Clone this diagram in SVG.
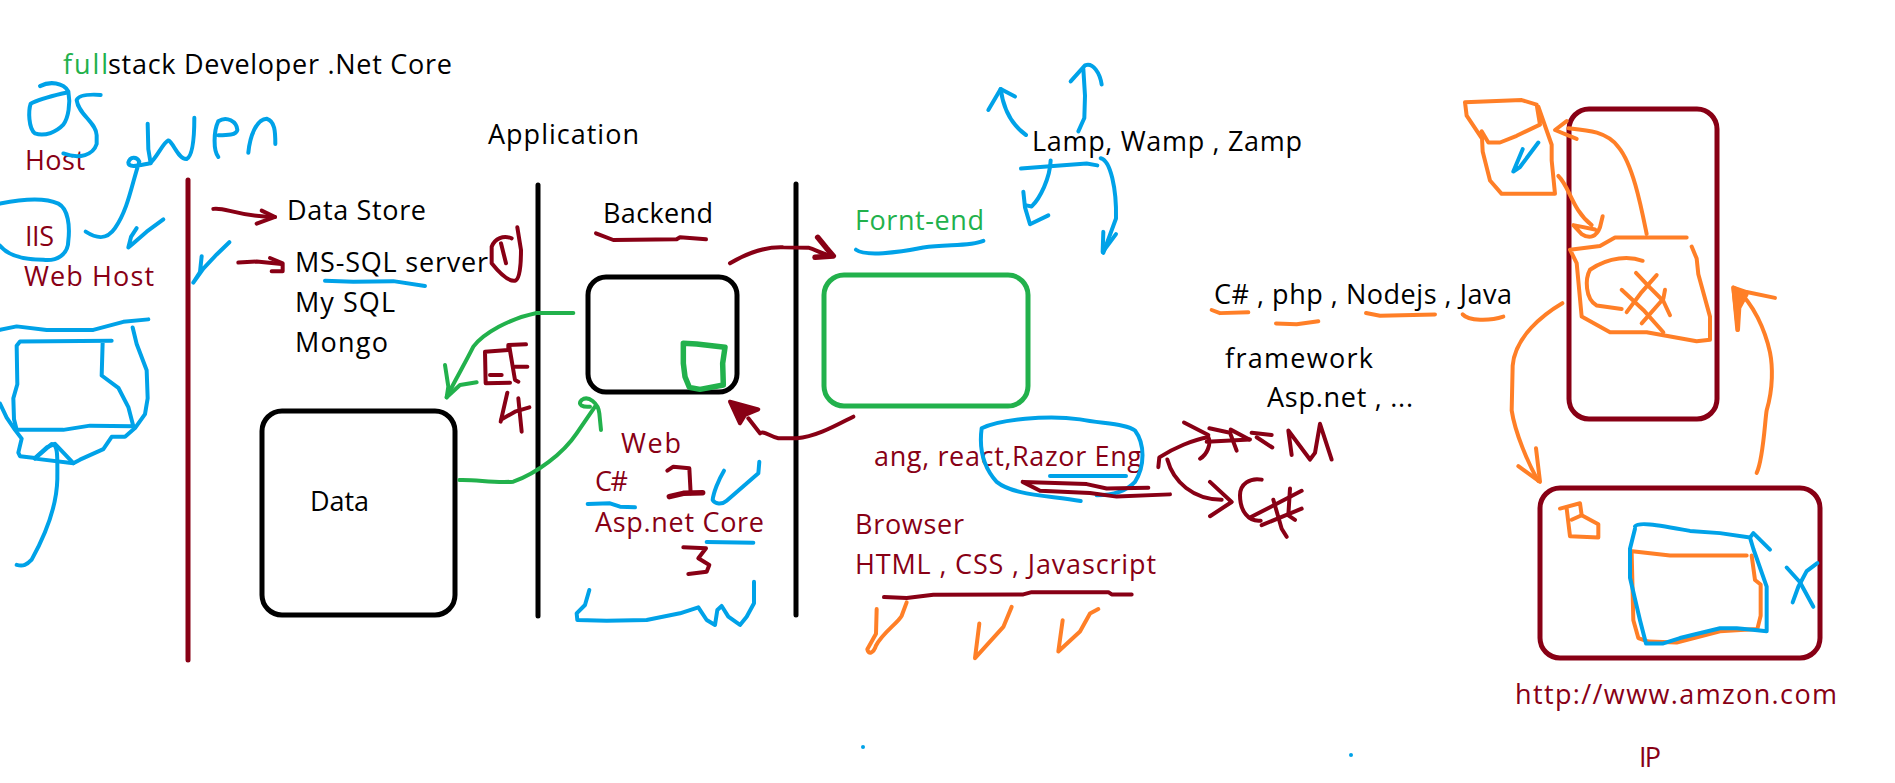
<svg xmlns="http://www.w3.org/2000/svg" width="1895" height="783" viewBox="0 0 1895 783">
<style>
text{font-family:"Open Sans","Noto Sans","Liberation Sans",sans-serif;font-size:27px;fill:#000}
text.m{fill:#880015}
text.g{fill:#22B14C}
rect,polyline,polygon,line,path{fill:none;stroke-linecap:round;stroke-linejoin:round;vector-effect:non-scaling-stroke}
.box{stroke-width:5}
.bk{stroke:#000}
.mr{stroke:#880015}
.gr{stroke:#22B14C}
.bl{stroke:#00A2E8;stroke-width:4}
.or{stroke:#FF7F27;stroke-width:4}
.mrs{stroke:#880015;stroke-width:4}
.grs{stroke:#22B14C;stroke-width:4}
.thick{stroke-width:5.5}
.z1{transform:translate(0px,30px) scale(.33333,.35075)}
.z2{transform:translate(420px,150px) scale(.33333,.33333)}
.z3{transform:translate(840px,60px) scale(.33333,.44643)}
.z4{transform:translate(1400px,80px) scale(.33333,.44643)}
</style>
<rect width="1895" height="783" fill="#fff" style="stroke:none"/>

<g id="dividers">
<line class="box mr" x1="188" y1="180" x2="188" y2="660"/>
<line class="box bk" x1="538" y1="185" x2="538" y2="616"/>
<line class="box bk" x1="796" y1="184" x2="796" y2="615"/>
</g>

<g id="node-data"><rect class="box bk" x="262" y="411" width="193" height="204" rx="20"/><text x="310" y="511" textLength="59">Data</text></g>
<g id="node-backend"><rect class="box bk" x="588" y="277" width="149" height="115" rx="18"/>
<g class="z2"><polygon class="grs thick" points="790,580 830,582 915,592 908,640 910,705 840,718 808,712 795,680 790,640"/></g></g>
<g id="node-frontend"><rect class="box gr" x="824" y="275" width="204" height="131" rx="20"/></g>
<g id="node-server"><rect class="box mr" x="1569" y="109" width="148" height="310" rx="20"/></g>
<g id="node-browser"><rect class="box mr" x="1540" y="488" width="280" height="170" rx="20"/></g>

<g id="labels">
<text class="g" x="63" y="74" textLength="45">full</text>
<text x="108" y="74" textLength="344">stack Developer .Net Core</text>
<text class="m" x="25" y="170" textLength="60">Host</text>
<text class="m" x="25" y="246" textLength="29">IIS</text>
<text class="m" x="24" y="286" textLength="130">Web Host</text>
<text x="488" y="144" textLength="151">Application</text>
<text x="287" y="220" textLength="139">Data Store</text>
<text x="295" y="272" textLength="193">MS-SQL server</text>
<text x="295" y="312" textLength="100">My SQL</text>
<text x="295" y="352" textLength="93">Mongo</text>
<text x="603" y="223" textLength="110">Backend</text>
<text class="g" x="855" y="230" textLength="129">Fornt-end</text>
<text class="m" x="621" y="453" textLength="60">Web</text>
<text class="m" x="595" y="491" textLength="33">C#</text>
<text class="m" x="595" y="532" textLength="169">Asp.net Core</text>
<text class="m" x="874" y="466" textLength="268">ang, react,Razor Eng</text>
<text class="m" x="855" y="534" textLength="109">Browser</text>
<text class="m" x="855" y="574" textLength="301">HTML , CSS , Javascript</text>
<text x="1032" y="151" textLength="270">Lamp, Wamp , Zamp</text>
<text x="1214" y="304" textLength="298">C# , php , Nodejs , Java</text>
<text x="1225" y="368" textLength="148">framework</text>
<text x="1267" y="407" textLength="146">Asp.net , ...</text>
<text class="m" x="1515" y="704" textLength="322">http://www.amzon.com</text>
<text class="m" x="1639" y="767" textLength="22">IP</text>
</g>

<g id="connectors">
<g class="z1">
<path class="bl" d="M120,160 C150,145 190,150 205,175 C212,210 205,250 190,270 C170,290 135,305 105,295 C85,280 85,230 92,210 C120,195 170,185 200,178"/>
<path class="bl" d="M302,185 C270,183 235,185 230,200 C235,240 290,265 290,300 L290,325 C280,355 240,370 190,352"/>
<path class="bl" d="M257,575 C290,595 320,600 345,565 C385,510 395,440 418,375 C410,360 390,360 385,378 C385,395 420,385 450,380 C470,365 490,320 505,315 C520,320 535,370 560,368 C575,360 583,320 583,250"/>
<polyline class="bl" points="443,267 445,340 452,380"/>
<path class="bl" d="M655,300 C680,300 710,300 712,285 C710,260 680,245 655,260 C640,290 640,345 655,362"/>
<path class="bl" d="M745,350 C750,300 770,255 800,253 C825,260 826,290 826,325"/>
<path class="bl" d="M0,495 C50,485 130,475 175,495 C205,510 210,560 205,600 C205,640 170,660 130,655 C90,655 30,650 0,615"/>
<polyline class="bl" points="490,540 440,575 395,612 385,620 393,590 410,565"/>
<polyline class="bl" points="688,605 650,640 610,680 580,720 600,690 605,645"/>
<polyline class="bl" points="975,715 1060,718 1180,716 1275,730"/>
<polyline class="bl" points="0,855 50,845 140,855 280,855 370,832 445,825"/>
<polyline class="bl" points="335,886 60,888 50,900 52,1010 40,1050 42,1110 50,1140 190,1140 270,1128 400,1130 385,1075 355,1020 305,985 308,890"/>
<polyline class="bl" points="398,848 410,895 440,970 443,1050 435,1095 405,1135 375,1160 335,1160 310,1195 240,1225 220,1235 190,1205 165,1180 140,1190 105,1220 60,1215 55,1205 65,1165 45,1140 20,1105 0,1065"/>
<path class="bl" d="M105,1222 L155,1180 C175,1180 172,1220 172,1280 C170,1370 130,1450 95,1510 C80,1525 70,1530 50,1525"/>
<polyline class="bl" points="105,1222 220,1235"/>
<path class="mrs" d="M640,510 C680,505 700,530 825,533"/>
<polyline class="mrs" points="785,515 825,533 770,552"/>
<polyline class="mrs" points="715,663 770,660 845,667"/>
<polyline class="mrs" points="810,650 848,665 848,688 815,688"/>
</g>
<g class="z2">
<polyline class="mrs" points="528,250 580,270 770,268 780,262 858,268"/>
<path class="mrs" d="M275,265 C250,255 225,265 215,290 L215,340 C235,365 265,395 285,392 C300,390 303,340 303,300 L292,232"/>
<polyline class="mrs" points="243,280 258,340"/>
<polyline class="mrs" points="318,583 265,585 265,600 195,605 197,700 270,698"/>
<polyline class="mrs" points="210,675 245,675"/>
<polyline class="mrs" points="268,590 285,690 295,695"/>
<polyline class="mrs" points="285,650 322,650"/>
<polyline class="mrs" points="262,728 242,815"/>
<polyline class="mrs" points="245,808 285,785 328,772"/>
<polyline class="mrs" points="295,745 305,845"/>
<polyline class="mrs" points="742,962 760,950 808,955 812,1030"/>
<polyline class="mrs thick" points="748,1040 790,1030 848,1028"/>
<polyline class="mrs" points="790,1192 858,1195 835,1225 868,1245 860,1265 805,1272"/>
<path class="mrs" d="M930,340 C980,310 1040,290 1090,292 L1165,293 C1190,300 1210,315 1240,318"/>
<polyline class="mrs thick" points="1193,262 1220,295 1240,318 1185,322"/>
<path class="mrs" d="M1300,800 C1250,825 1190,860 1130,865 L1075,865 C1050,860 1030,840 1020,850 L985,805"/>
<polygon class="mrs" style="fill:#880015" points="930,755 1015,778 975,795 960,820"/>
<path class="grs" d="M460,489 L350,489 C270,505 190,550 160,590 C135,640 100,700 80,742"/>
<polyline class="grs" points="75,645 85,710 80,742 120,705 170,697"/>
<path class="grs" d="M118,990 C170,988 220,1000 280,995 C350,970 430,910 470,850 L525,770"/>
<path class="grs" d="M543,840 L538,790 C535,760 505,735 485,750 C470,765 490,772 510,770"/>
<path class="bl" d="M912,962 C895,990 880,1030 878,1050 C885,1062 905,1065 920,1052 L1015,970 L1018,935"/>
<polyline class="bl" points="503,1062 570,1060 600,1070 645,1072"/>
<polyline class="bl" points="860,1176 1000,1178"/>
<polyline class="bl" points="508,1320 495,1365 470,1390 472,1410 560,1412 680,1410 780,1390 835,1372 860,1410 885,1425 892,1380 905,1368 925,1400 960,1425 980,1400 1002,1360 1002,1295"/>
</g>
<g class="z3">
<path class="bl" d="M558,168 C515,145 490,110 482,65"/>
<polyline class="bl" points="445,112 482,65 525,82"/>
<polyline class="bl" points="715,160 733,130 735,80 730,20"/>
<path class="bl" d="M692,48 L735,12 C760,5 780,30 785,55"/>
<polyline class="bl" points="543,243 630,238 740,232 772,236"/>
<path class="bl" d="M632,225 C630,265 600,310 575,328 L555,325"/>
<polyline class="bl" points="550,295 555,330 570,368 625,348"/>
<path class="bl" d="M782,220 C812,225 830,290 828,355 L790,432"/>
<polyline class="bl" points="790,385 788,430 828,390"/>
<path class="bl" d="M48,425 C75,440 170,432 250,420 C320,412 390,418 430,405"/>
<path class="bl" d="M722,988 C620,975 520,975 470,945 C440,920 415,880 425,825 C480,805 620,795 720,805 C790,815 860,815 885,830 C915,860 915,910 885,945 C860,965 825,975 770,975"/>
<polyline class="bl" points="630,932 858,932"/>
<polyline class="mrs" points="548,945 600,965 750,970 830,978 990,973"/>
<polyline class="mrs" points="550,945 740,950 800,960 925,958"/>
<path class="mrs" d="M955,912 L958,890 C1000,870 1060,850 1105,845 C1115,860 1100,885 1080,893"/>
<polyline class="mrs" points="1032,812 1105,840"/>
<polyline class="mrs" points="1108,825 1170,835 1190,875"/>
<polyline class="mrs" points="1100,855 1230,850"/>
<polyline class="mrs" points="1172,828 1228,850"/>
<polyline class="mrs" points="1235,835 1295,840"/>
<polyline class="mrs" points="1250,845 1297,868"/>
<polyline class="mrs" points="1355,885 1345,830 1410,895 1425,880 1440,815 1475,895"/>
<path class="mrs" d="M982,895 C1000,945 1060,985 1145,985"/>
<polyline class="mrs" points="1110,945 1175,990 1110,1022"/>
<path class="mrs" d="M1265,940 C1230,935 1200,950 1200,975 C1200,1010 1225,1035 1262,1032"/>
<polyline class="mrs" points="1230,1025 1385,965"/>
<polyline class="mrs" points="1265,1042 1385,1005"/>
<polyline class="mrs" points="1300,985 1325,1050 1340,1068"/>
<polyline class="mrs" points="1350,960 1345,1020 1365,1030"/>
<polyline class="mrs" points="132,1203 200,1205 280,1198 550,1197 575,1192 805,1192 815,1197 875,1197"/>
<path class="or" d="M110,1230 L108,1285 L82,1320 C85,1332 100,1330 108,1312 C125,1285 175,1260 185,1245 L200,1215"/>
<polyline class="or" points="418,1262 405,1340 490,1270 515,1225"/>
<polyline class="or" points="668,1255 655,1325 720,1280 750,1240 775,1230"/>
<polyline class="or" points="1115,560 1140,567 1225,565"/>
<polyline class="or" points="1308,590 1370,592 1435,585"/>
</g>
<g class="z4">
<polyline class="or" points="-102,522 -60,528 105,525"/>
<path class="or" d="M188,525 C205,540 270,540 310,530"/>
<polyline class="or" points="245,130 200,80 195,50 365,45 410,55 420,100 350,125 300,140 265,140 245,115 248,160 270,225 305,255 465,255 455,180 455,145 415,60"/>
<path class="or" d="M740,345 C725,290 700,190 655,150 C620,115 560,112 505,108"/>
<polyline class="or" points="500,92 465,112 530,132"/>
<path class="or" d="M475,215 C510,240 515,290 575,325"/>
<path class="or" d="M608,305 L600,330 C590,350 570,358 545,345 L520,325 L585,335"/>
<polyline class="or" points="860,353 645,353 600,372 510,380 530,410 545,530 630,565 740,565 890,585 930,582 930,530 895,435 890,400 875,373"/>
<path class="or" d="M728,405 C690,395 630,395 570,425 C555,445 555,490 590,505 L665,513"/>
<polyline class="or" points="708,432 750,465 790,495 810,527"/>
<polyline class="or" points="665,470 730,515 790,565"/>
<polyline class="or" points="770,437 725,475 680,520"/>
<polyline class="or" points="795,470 790,490 725,545"/>
<path class="or" d="M487,500 C430,525 345,575 338,640 L335,740 C345,790 385,860 415,898"/>
<polyline class="or" points="355,865 420,900 408,825"/>
<path class="or" d="M1070,880 C1090,850 1095,760 1100,740 C1120,690 1118,640 1110,610 C1095,560 1060,500 1010,470"/>
<polyline class="or" points="1125,488 1040,475 1000,465 1012,560"/>
<polygon class="or" style="fill:#FF7F27" points="1000,465 1040,480 1018,510 1014,560"/>
<polyline class="or" points="480,960 540,948 545,975 595,995 595,1025 510,1022 500,960"/>
<polyline class="or" points="515,985 545,975"/>
<polyline class="or" points="690,1055 810,1065 1040,1065"/>
<polyline class="or" points="1055,1065 1065,1120 1082,1130 1082,1200 1072,1230 960,1235 830,1260 745,1258 715,1250 700,1210 695,1060"/>
<path class="bl" d="M705,1000 C715,990 760,995 870,1010 L960,1015 L1050,1025 L1060,1050 L1100,1135 L1100,1235 L1065,1232 L1010,1228 L960,1228 L840,1250 L790,1262 L738,1262 L720,1210 L690,1115 L690,1050 L705,1005"/>
<polyline class="bl" points="1050,1025 1060,1015 1110,1052"/>
<polyline class="bl" points="1160,1092 1200,1125 1240,1180"/>
<polyline class="bl" points="1252,1082 1220,1100 1195,1135 1178,1170"/>
<polyline class="bl" points="368,155 340,205 360,195 415,140"/>
</g>
</g>
<g id="specks">
<circle cx="863" cy="747" r="2" fill="#00A2E8"/>
<circle cx="1351" cy="755" r="2" fill="#00A2E8"/>
</g>
</svg>
